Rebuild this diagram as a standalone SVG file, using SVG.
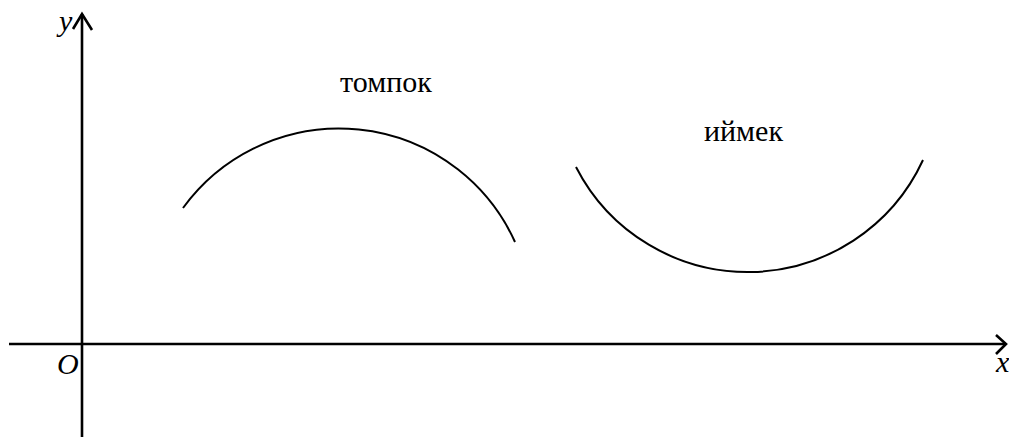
<svg xmlns="http://www.w3.org/2000/svg" width="1009" height="437" viewBox="0 0 1009 437">
<style>
.axis{stroke:#000;stroke-width:2.6;fill:none}
.curve{stroke:#000;stroke-width:2;fill:none}
.lbl{font-family:"Liberation Serif","Times New Roman",serif;font-size:30px;font-style:italic;fill:#000}
.word{font-family:"Liberation Serif","Times New Roman",serif;font-size:30px;fill:#000}
</style>
<rect width="1009" height="437" fill="#fff"/>
<g id="connectors">
<g id="y-axis">
<line class="axis" x1="82" y1="437" x2="82" y2="14"/>
<polyline class="axis" points="73,29 82,14 92,30"/>
</g>
<g id="x-axis">
<line class="axis" x1="9" y1="344" x2="1006" y2="344"/>
<polyline class="axis" points="996,335 1006,344 996,354"/>
</g>
</g>
<g id="node-tompok">
<path class="curve" d="M183,208 A193,193 0 0 1 515,242"/>
<text class="word" x="340" y="92">томпок</text>
</g>
<g id="node-iymek">
<path class="curve" d="M576,167 A193,193 0 0 0 923,160"/>
<text class="word" x="704" y="141">иймек</text>
</g>
<g id="labels">
<text class="lbl" x="59" y="31">y</text>
<text class="lbl" x="57" y="374">O</text>
<text class="lbl" x="996" y="372">x</text>
</g>
</svg>
